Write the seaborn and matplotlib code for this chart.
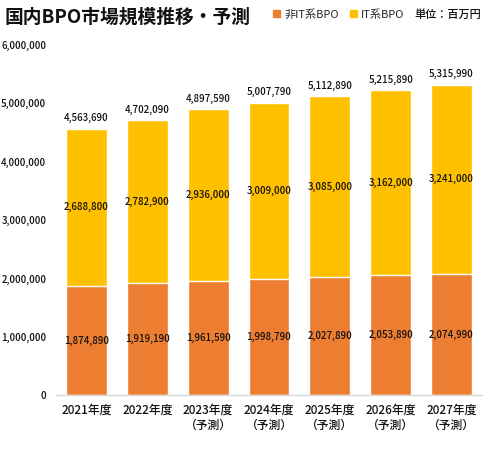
import numpy as np
import pandas as pd
import matplotlib
matplotlib.use('Agg')
import matplotlib.pyplot as plt
import seaborn as sns
from matplotlib.patches import Patch

years = ['2021年度', '2022年度', '2023年度\n（予測）', '2024年度\n（予測）',
         '2025年度\n（予測）', '2026年度\n（予測）', '2027年度\n（予測）']
non_it = [1874890, 1919190, 1961590, 1998790, 2027890, 2053890, 2074990]
it = [2688800, 2782900, 2936000, 3009000, 3085000, 3162000, 3241000]
yticks = [0, 1000000, 2000000, 3000000, 4000000, 5000000, 6000000]

ORANGE = '#ED7D31'
YELLOW = '#FFC000'

sns.set_style('white')
plt.rcParams['font.family'] = ['Noto Sans CJK JP', 'DejaVu Sans']

data = pd.DataFrame({'year': years, 'non_it': non_it, 'it': it})
data['total'] = data['non_it'] + data['it']

fig = plt.figure(figsize=(4.93, 4.54), dpi=100)
ax = fig.add_axes([0.1136, 0.1289, 0.864, 0.773])

sns.barplot(data=data, x='year', y='total', color=YELLOW, width=0.67,
            saturation=1, ax=ax)
sns.barplot(data=data, x='year', y='non_it', color=ORANGE, width=0.67,
            saturation=1, ax=ax)

for i, row in data.iterrows():
    ax.text(i, row['non_it'] / 2, f"{row['non_it']:,}", ha='center', va='center',
            fontsize=7, color='#111111', fontweight='medium')
    ax.text(i, row['non_it'] + row['it'] / 2, f"{row['it']:,}", ha='center',
            va='center', fontsize=7, color='#111111', fontweight='medium')
    ax.text(i, row['total'] + 90000, f"{row['total']:,}", ha='center',
            va='bottom', fontsize=7, color='#111111', fontweight='medium')

ax.set_ylim(0, 6000000)
ax.set_xlim(-0.5, 6.5)
ax.set_yticks(yticks)
ax.set_yticklabels([f'{v:,}' for v in yticks], fontsize=7, color='#111111',
                   fontweight='medium')
for lab in ax.get_xticklabels():
    lab.set_fontweight('medium')
ax.tick_params(axis='x', labelsize=8.5, colors='#111111', length=0, pad=6)
ax.tick_params(axis='y', length=0, pad=7)
ax.set_xlabel('')
ax.set_ylabel('')
for s in ['top', 'right', 'left']:
    ax.spines[s].set_visible(False)
ax.spines['bottom'].set_color('#D9D9D9')
ax.spines['bottom'].set_linewidth(1)

fig.text(0.01, 0.962, '国内BPO市場規模推移・予測', fontsize=13.5, fontweight='bold',
         va='center', ha='left', color='#111111')
handles = [Patch(color=ORANGE, label='非IT系BPO'), Patch(color=YELLOW, label='IT系BPO')]
fig.legend(handles=handles, loc='center left', bbox_to_anchor=(0.545, 0.968),
           ncol=2, frameon=False, fontsize=8, handlelength=0.6, handleheight=0.6,
           handletextpad=0.4, columnspacing=1.0, borderaxespad=0)
fig.text(0.975, 0.968, '単位：百万円', fontsize=8, ha='right', va='center',
         color='#111111', fontweight='medium')

fig.savefig('out.png', dpi=100)
